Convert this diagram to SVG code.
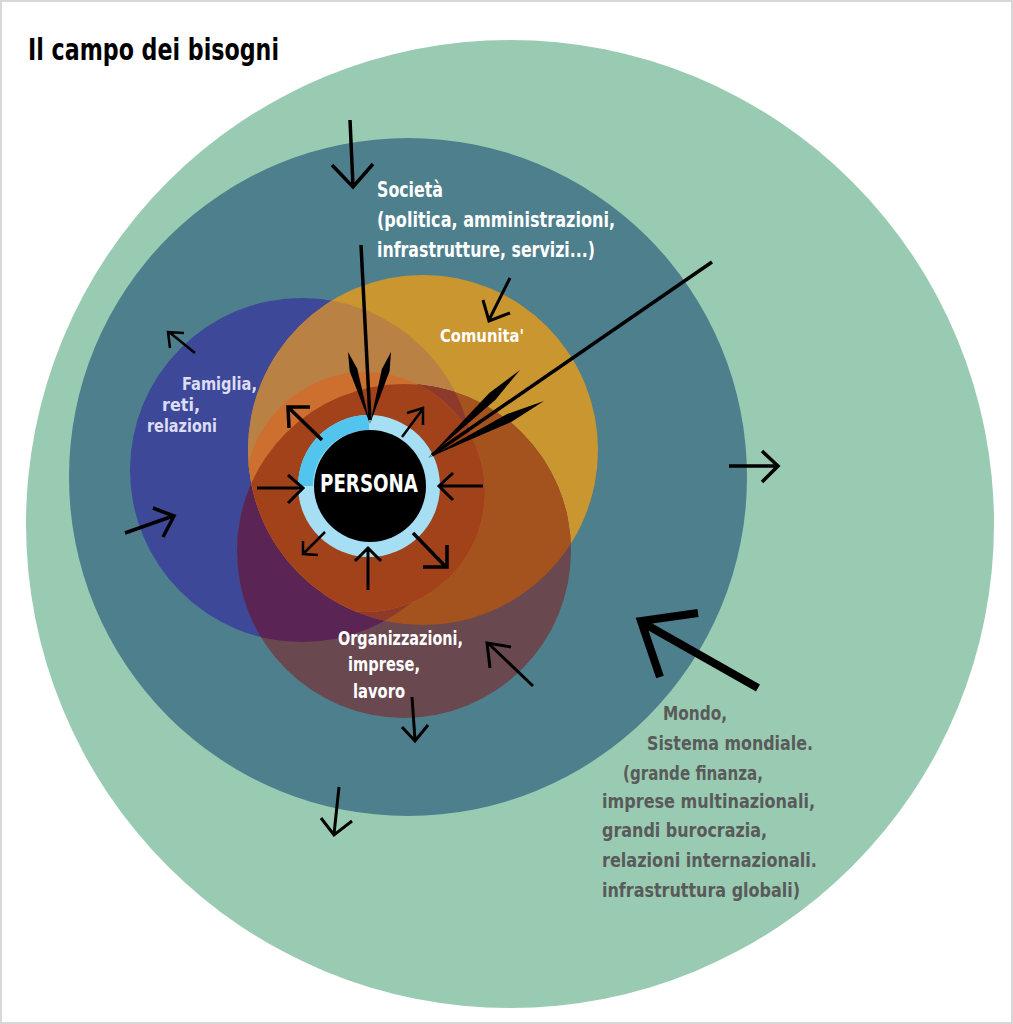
<svg xmlns="http://www.w3.org/2000/svg" width="1013" height="1024" viewBox="0 0 1013 1024">
<style>
.t{font-family:"DejaVu Sans Condensed","DejaVu Sans",sans-serif;font-weight:bold;font-stretch:condensed}
.w{fill:#ffffff}
.lav{fill:#dcdcf2}
.g{fill:#5a5a5a}
.ln{fill:none;stroke:#000;stroke-linecap:butt;stroke-linejoin:miter}
.wing{fill:#000}
</style>
<defs>
<clipPath id="cBlue"><circle cx="302" cy="470" r="172"/></clipPath>
<clipPath id="cYellow"><circle cx="423" cy="450" r="175"/></clipPath>
<clipPath id="cMaroon"><circle cx="404" cy="551" r="167"/></clipPath>
</defs>
<rect x="1" y="1" width="1011" height="1022" fill="#ffffff" stroke="#d8d8d8" stroke-width="2"/>
<text class="t" x="28" y="60" font-size="30" textLength="251" lengthAdjust="spacingAndGlyphs" fill="#000">Il campo dei bisogni</text>

<g id="mondo">
<circle cx="510" cy="524" r="484" fill="#99cbb3"/>
<g class="t g" font-size="19">
<text x="663" y="720" textLength="64" lengthAdjust="spacingAndGlyphs">Mondo,</text>
<text x="647" y="750" textLength="166" lengthAdjust="spacingAndGlyphs">Sistema mondiale.</text>
<text x="623" y="780" textLength="140" lengthAdjust="spacingAndGlyphs">(grande finanza,</text>
<text x="602" y="808" textLength="213" lengthAdjust="spacingAndGlyphs">imprese multinazionali,</text>
<text x="602" y="837" textLength="165" lengthAdjust="spacingAndGlyphs">grandi burocrazia,</text>
<text x="602" y="867" textLength="215" lengthAdjust="spacingAndGlyphs">relazioni internazionali.</text>
<text x="602" y="897" textLength="198" lengthAdjust="spacingAndGlyphs">infrastruttura globali)</text>
</g>
</g>

<g id="societa">
<circle cx="408" cy="477" r="339" fill="#4e7f8d"/>
<g class="t w" font-size="21">
<text x="377" y="197" textLength="66" lengthAdjust="spacingAndGlyphs">Società</text>
<text x="377" y="227" textLength="238" lengthAdjust="spacingAndGlyphs">(politica, amministrazioni,</text>
<text x="377" y="257" textLength="218" lengthAdjust="spacingAndGlyphs">infrastrutture, servizi...)</text>
</g>
</g>

<g id="famiglia">
<circle cx="302" cy="470" r="172" fill="#3d4899"/>
<g class="t lav" font-size="18">
<text x="182" y="390" textLength="75" lengthAdjust="spacingAndGlyphs">Famiglia,</text>
<text x="162" y="411" textLength="38" lengthAdjust="spacingAndGlyphs">reti,</text>
<text x="147" y="432" textLength="70" lengthAdjust="spacingAndGlyphs">relazioni</text>
</g>
</g>

<g id="comunita">
<circle cx="423" cy="450" r="175" fill="#c9962f"/>
<circle cx="423" cy="450" r="175" fill="#ba8145" clip-path="url(#cBlue)"/>
<text class="t w" x="440" y="342" font-size="18" textLength="84" lengthAdjust="spacingAndGlyphs">Comunita'</text>
</g>

<g id="organizzazioni">
<circle cx="404" cy="551" r="167" fill="#6a4850"/>
<circle cx="404" cy="551" r="167" fill="#5a2554" clip-path="url(#cBlue)"/>
<circle cx="404" cy="551" r="167" fill="#a5531e" clip-path="url(#cYellow)"/>
<g clip-path="url(#cBlue)"><circle cx="404" cy="551" r="167" fill="#8e3a2a" clip-path="url(#cYellow)"/></g>
<g class="t w" font-size="19">
<text x="338" y="645" textLength="125" lengthAdjust="spacingAndGlyphs">Organizzazioni,</text>
<text x="348" y="671" textLength="72" lengthAdjust="spacingAndGlyphs">imprese,</text>
<text x="353" y="698" textLength="52" lengthAdjust="spacingAndGlyphs">lavoro</text>
</g>
</g>

<g id="persona">
<circle cx="365" cy="492" r="120" fill="#cd6f2e" clip-path="url(#cYellow)"/>
<g clip-path="url(#cMaroon)"><circle cx="365" cy="492" r="120" fill="#a2421b" clip-path="url(#cYellow)"/></g>
<circle cx="369" cy="486" r="71" fill="#a6dff3"/>
<path d="M298,486 A71,71 0 0 1 369,415 L369,430 A56,56 0 0 0 313,486 Z" fill="#52c5ef"/>
<circle cx="370" cy="486" r="56" fill="#000"/>
<text class="t w" x="320" y="492" font-size="25" textLength="98" lengthAdjust="spacingAndGlyphs">PERSONA</text>
</g>

<g id="connectors">
<path class="ln" stroke-width="3.5" d="M350,120 L353,186 M332,165 L353,187 L373,164"/>
<path class="ln" stroke-width="3.5" d="M361,245 L370,420"/>
<polygon class="wing" points="348,352 357.3,368.8 370,424 349.7,371.2"/>
<polygon class="wing" points="391,352 389.6,371.1 370,424 381.9,368.9"/>
<path class="ln" stroke-width="3.5" d="M712,262 L432,455"/>
<polygon class="wing" points="520,370 495.5,399.7 428,458 489.3,393.1"/>
<polygon class="wing" points="544,401 511.2,422.1 428,458 507.2,414.1"/>
<path class="ln" stroke-width="3" d="M510,278 L489,320 M483,300 L489,321 L510,313"/>
<path class="ln" stroke-width="2.5" d="M195,353 L169,332 M170,348 L168,332 L184,333"/>
<path class="ln" stroke-width="3.5" d="M125,533 L173,516 M153,508 L174,516 L163,537"/>
<path class="ln" stroke-width="3.5" d="M729,466 L777,466 M762,451 L778,466 L762,482"/>
<path class="ln" stroke-width="3" d="M339,787 L334,834 M321,818 L334,835 L352,821"/>
<path class="ln" stroke-width="8" d="M758,688 L645,624 M698,613 L641,621 L660,677"/>
<path class="ln" stroke-width="3" d="M533,686 L489,644 M490,668 L487,643 L511,647"/>
<path class="ln" stroke-width="3" d="M412,697 L415,740 M402,727 L415,741 L428,725"/>
<path class="ln" stroke-width="3.5" d="M322,440 L289,408 M289,428 L288,407 L310,407"/>
<path class="ln" stroke-width="2.5" d="M402,437 L422,410 M407,413 L423,408 L423,425"/>
<path class="ln" stroke-width="3" d="M257,488 L302,488 M288,475 L303,488 L288,503"/>
<path class="ln" stroke-width="3" d="M483,486 L440,486 M453,473 L439,486 L453,500"/>
<path class="ln" stroke-width="2.5" d="M325,532 L304,553 M303,541 L303,554 L318,555"/>
<path class="ln" stroke-width="3" d="M368,590 L368,549 M355,561 L368,548 L381,561"/>
<path class="ln" stroke-width="3.5" d="M413,533 L445,566 M423,567 L447,567 L447,545"/>
</g>
</svg>
